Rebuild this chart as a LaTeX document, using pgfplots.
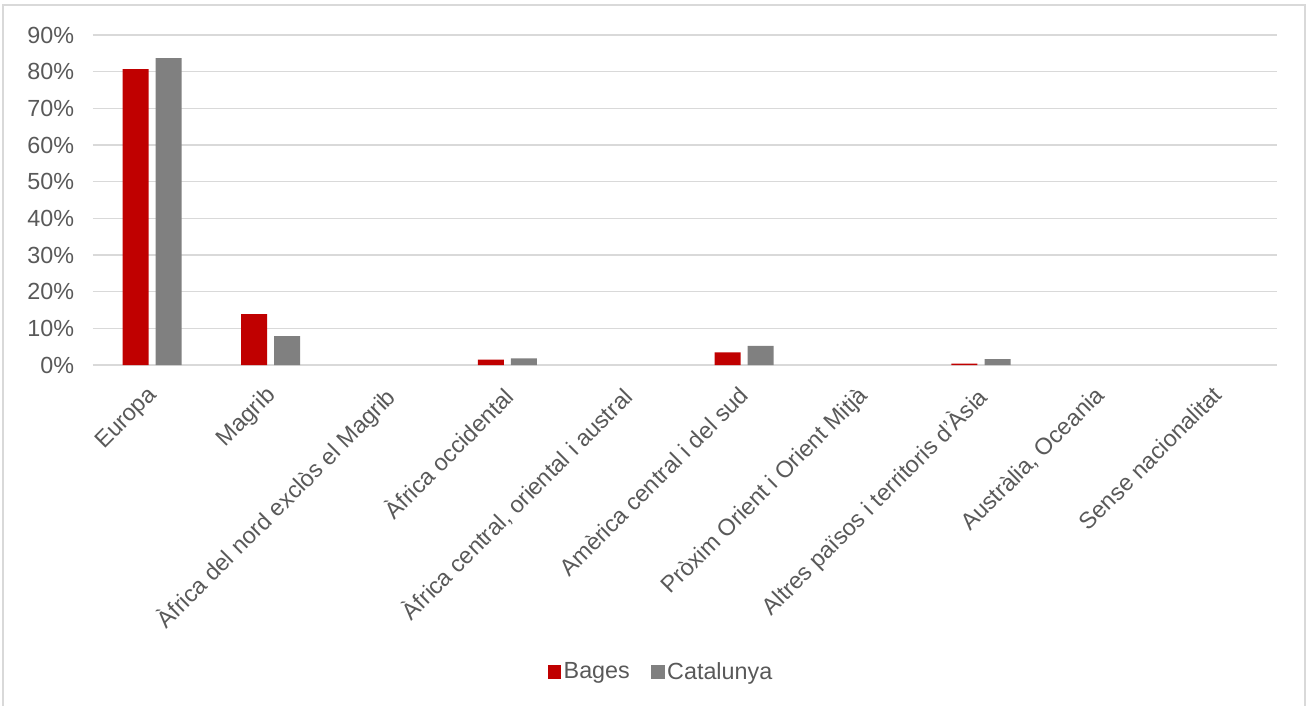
\documentclass[border=0pt]{standalone}
\usepackage{pgfplots}
\pgfplotsset{compat=1.18}
\usepackage{fontspec}
\setmainfont{Liberation Sans}
\definecolor{bred}{HTML}{C00000}
\definecolor{cgray}{HTML}{808080}
\definecolor{gridc}{HTML}{D9D9D9}
\definecolor{txt}{HTML}{595959}
\begin{document}
\begin{tikzpicture}
\useasboundingbox (-69.75pt,-255.75pt) rectangle (910.5pt,273.75pt);
\draw[gridc, line width=1.2pt] (-67.5pt,-260pt) -- (-67.5pt,270pt) -- (909pt,270pt) -- (909pt,-260pt);
\begin{axis}[
  at={(0pt,0pt)}, anchor=south west,
  scale only axis, width=888pt, height=247.5pt,
  ybar, bar width=19.5pt,
  xmin=-0.5, xmax=9.5, ymin=0, ymax=90,
  ytick={0,10,...,90},
  yticklabels={0\%,10\%,20\%,30\%,40\%,50\%,60\%,70\%,80\%,90\%},
  xtick={0,...,9},
  xticklabels={Europa,Magrib,Àfrica del nord exclòs el Magrib,Àfrica occidental,{Àfrica central, oriental i austral},Amèrica central i del sud,Pròxim Orient i Orient Mitjà,Altres països i territoris d'Àsia,{Austràlia, Oceania},Sense nacionalitat},
  x tick label style={rotate=45, anchor=north east, inner sep=1pt, font=\fontsize{17.5pt}{20pt}\selectfont, text=txt, xshift=-12.6pt, yshift=-6pt},
  y tick label style={font=\fontsize{17.5pt}{20pt}\selectfont, text=txt, anchor=east, inner sep=0pt, xshift=-14pt},
  major tick length=0pt,
  ymajorgrids, major grid style={gridc, line width=1.2pt},
  axis line style={draw=none},
  legend style={at={(0.48,-0.93)}, anchor=center, draw=none, legend columns=2,
    font=\fontsize{17.5pt}{20pt}\selectfont, text=txt,
    /tikz/every even column/.append style={column sep=14pt}},
  legend image code/.code={\fill[#1] (0pt,-5pt) rectangle (10pt,5pt);},
  clip=false,
]
\addplot[fill=bred, draw=none, bar shift=-12.4pt] coordinates {(0,80.7) (1,13.9) (3,1.45) (5,3.45) (7,0.35)};
\addplot[fill=cgray, draw=none, bar shift=12.4pt] coordinates {(0,83.7) (1,7.9) (3,1.8) (5,5.2) (7,1.6)};
\legend{Bages,Catalunya}
\end{axis}
\end{tikzpicture}
\end{document}
